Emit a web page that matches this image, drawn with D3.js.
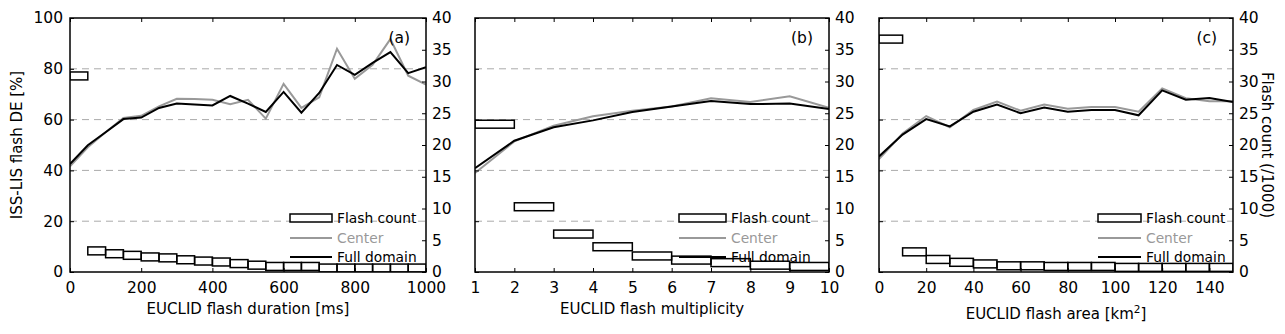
<!DOCTYPE html>
<html>
<head>
<meta charset="utf-8">
<script src="https://cdn.jsdelivr.net/npm/d3@7"></script>
<style>
  body { margin: 0; background: #fff; }
  svg { font-family: "DejaVu Sans", sans-serif; }
</style>
</head>
<body>
<div id="chart"></div>
<script>

// (a) flash duration
var durX = [0, 50, 100, 150, 200, 250, 300, 350, 400, 450, 500, 550, 600, 650, 700, 750, 800, 850, 900, 950, 1000];
var durFull = [42.5, 49.9, 55, 60.2, 60.8, 64.6, 66.3, 65.9, 65.6, 69.3, 66.3, 63, 70.9, 62.7, 70.5, 81.5, 77.6, 82.3, 86.6, 78.3, 80.6];
var durCenter = [41.6, 49.1, 55, 60.6, 61.5, 65.2, 68.2, 68.1, 67.8, 66.1, 67.8, 60.4, 74.1, 64.6, 68.8, 87.9, 76.1, 81.6, 91.7, 77.3, 73.8];
var durBins = [0, 50, 100, 150, 200, 250, 300, 350, 400, 450, 500, 550, 600, 650, 700, 750, 800, 850, 900, 950];
var durCount = [31.5, 3.95, 3.5, 3.25, 3.0, 2.85, 2.55, 2.35, 2.2, 1.95, 1.7, 1.5, 1.5, 1.5, 1.25, 1.25, 1.25, 1.25, 1.25, 1.25];
var durTicks = [0, 200, 400, 600, 800, 1000];

// (b) flash multiplicity
var multX = [1, 2, 3, 4, 5, 6, 7, 8, 9, 10];
var multFull = [40.9, 51.7, 57.0, 59.7, 63.0, 65.2, 67.3, 66.1, 66.3, 64.2];
var multCenter = [39.0, 51.4, 57.6, 61.3, 63.5, 65.2, 68.4, 66.9, 69.2, 64.6];
var multBins = [1, 2, 3, 4, 5, 6, 7, 8, 9];
var multCount = [23.9, 10.9, 6.6, 4.6, 3.15, 2.5, 2.1, 1.7, 1.5];
var multTicks = [1, 2, 3, 4, 5, 6, 7, 8, 9, 10];

// (c) flash area
var areaX = [0, 10, 20, 30, 40, 50, 60, 70, 80, 90, 100, 110, 120, 130, 140, 150];
var areaFull = [45.5, 54.1, 60.2, 57.3, 63.1, 65.9, 62.5, 64.8, 63.1, 63.8, 63.8, 61.7, 71.5, 67.8, 68.5, 66.9];
var areaCenter = [44.5, 54.5, 61.4, 57.0, 63.8, 67.1, 63.5, 65.9, 64.3, 65.0, 65.0, 63.1, 72.3, 68.4, 67.2, 67.2];
var areaBins = [0, 10, 20, 30, 40, 50, 60, 70, 80, 90, 100, 110, 120, 130, 140];
var areaCount = [37.3, 3.8, 2.6, 2.15, 1.9, 1.6, 1.6, 1.5, 1.5, 1.5, 1.35, 1.35, 1.35, 1.35, 1.35];
var areaTicks = [0, 20, 40, 60, 80, 100, 120, 140];

var deTicks = [0, 20, 40, 60, 80, 100];
var gridTicks = [20, 40, 60, 80];
var countTicks = [0, 5, 10, 15, 20, 25, 30, 35, 40];

var W = 1285, H = 334,
    pTop = 18, pBottom = 272;
var boxH = 1.25;   // height of a histogram box, in count units
var gray = "#999999";

var panels = [
  {id: "a", left: 70, right: 426, dom: [0, 1000], binW: 50, ticks: durTicks,
   x: durX, full: durFull, center: durCenter, bins: durBins, count: durCount,
   xlabel: "EUCLID flash duration [ms]", leftLabels: true, handle: 42, legLeft: 136},
  {id: "b", left: 475, right: 829, dom: [1, 10], binW: 1, ticks: multTicks,
   x: multX, full: multFull, center: multCenter, bins: multBins, count: multCount,
   xlabel: "EUCLID flash multiplicity", leftLabels: false, handle: 47, legLeft: 150},
  {id: "c", left: 879, right: 1233, dom: [0, 150], binW: 10, ticks: areaTicks,
   x: areaX, full: areaFull, center: areaCenter, bins: areaBins, count: areaCount,
   xlabel: "EUCLID flash area [km", sup: "2", leftLabels: false, handle: 43, legLeft: 135, rightLabel: true}
];

var svg = d3.select("#chart").append("svg")
    .attr("width", W)
    .attr("height", H);

var yDE = d3.scaleLinear().domain([0, 100]).range([pBottom, pTop]);
var yCnt = d3.scaleLinear().domain([0, 40]).range([pBottom, pTop]);

panels.forEach(function(p) {

  var x = d3.scaleLinear().domain(p.dom).range([p.left, p.right]);
  var g = svg.append("g");

  g.append("clipPath").attr("id", "clip-" + p.id)
    .append("rect")
      .attr("x", p.left).attr("y", pTop)
      .attr("width", p.right - p.left).attr("height", pBottom - pTop);

  // dashed grid from the left axis
  g.selectAll("line.grid")
      .data(gridTicks)
      .enter().append("line")
      .attr("class", "grid")
      .attr("x1", p.left).attr("x2", p.right)
      .attr("y1", yDE).attr("y2", yDE)
      .style("stroke", "#aaaaaa")
      .style("stroke-width", 1)
      .style("stroke-dasharray", "7,5");

  var line = d3.line()
      .x(function(d) { return x(d[0]); })
      .y(function(d) { return yDE(d[1]); });

  var plot = g.append("g").attr("clip-path", "url(#clip-" + p.id + ")");

  plot.append("path")
      .datum(p.x.map(function(v, i) { return [v, p.center[i]]; }))
      .attr("d", line)
      .style("fill", "none")
      .style("stroke", gray)
      .style("stroke-width", 2);

  plot.append("path")
      .datum(p.x.map(function(v, i) { return [v, p.full[i]]; }))
      .attr("d", line)
      .style("fill", "none")
      .style("stroke", "#000")
      .style("stroke-width", 2);

  // flash count boxes
  plot.selectAll("rect.box")
      .data(p.bins.map(function(b, i) { return {x0: b, c: p.count[i]}; }))
      .enter().append("rect")
      .attr("class", "box")
      .attr("x", function(d) { return x(d.x0); })
      .attr("width", function(d) { return x(d.x0 + p.binW) - x(d.x0); })
      .attr("y", function(d) { return yCnt(d.c); })
      .attr("height", function(d) { return yCnt(d.c - boxH) - yCnt(d.c); })
      .style("fill", "none")
      .style("stroke", "#000")
      .style("stroke-width", 1.5);

  // axes, ticks inside
  var xb = d3.axisBottom(x).tickValues(p.ticks).tickSize(-4).tickPadding(10)
      .tickFormat(d3.format("d"));
  var xt = d3.axisTop(x).tickValues(p.ticks).tickSize(-4).tickFormat("");
  var yl = d3.axisLeft(yDE).tickValues(deTicks).tickSize(-4).tickPadding(7)
      .tickFormat(p.leftLabels ? d3.format("d") : "");
  var yr = d3.axisRight(yCnt).tickValues(countTicks).tickSize(-4).tickPadding(6)
      .tickFormat(d3.format("d"));

  g.append("g").attr("transform", "translate(0," + pBottom + ")").call(xb);
  g.append("g").attr("transform", "translate(0," + pTop + ")").call(xt);
  g.append("g").attr("transform", "translate(" + p.left + ",0)").call(yl);
  g.append("g").attr("transform", "translate(" + p.right + ",0)").call(yr);

  g.selectAll(".domain").remove();
  g.selectAll(".tick line").style("stroke", "#000").style("stroke-width", 1);
  g.selectAll(".tick text")
      .style("font-family", "DejaVu Sans")
      .style("font-size", "15.5px")
      .style("fill", "#000");

  g.append("rect")
      .attr("x", p.left).attr("y", pTop)
      .attr("width", p.right - p.left).attr("height", pBottom - pTop)
      .style("fill", "none")
      .style("stroke", "#000")
      .style("stroke-width", 1.5);

  // panel letter
  g.append("text")
      .attr("x", p.right - 16).attr("y", 43)
      .attr("text-anchor", "end")
      .style("font-size", "15.5px")
      .text("(" + p.id + ")");

  // x label
  var xl = g.append("text")
      .attr("x", (p.left + p.right) / 2)
      .attr("y", p.sup ? 319 : 314)
      .attr("text-anchor", "middle")
      .style("font-size", "15px")
      .text(p.xlabel);
  if (p.sup) {
    xl.append("tspan").attr("dy", -6).style("font-size", "10.5px").text(p.sup);
    xl.append("tspan").attr("dy", 6).text("]");
  }

  // legend
  var lx = p.right - p.legLeft;
  var leg = g.append("g").style("font-size", "13.8px");
  leg.append("rect")
      .attr("x", lx).attr("y", 214)
      .attr("width", p.handle).attr("height", 8)
      .style("fill", "#fff")
      .style("stroke", "#000")
      .style("stroke-width", 1.5);
  leg.append("line")
      .attr("x1", lx).attr("x2", lx + p.handle)
      .attr("y1", 238).attr("y2", 238)
      .style("stroke", gray).style("stroke-width", 2);
  leg.append("line")
      .attr("x1", lx).attr("x2", lx + p.handle)
      .attr("y1", 257).attr("y2", 257)
      .style("stroke", "#000").style("stroke-width", 2);
  var tx = lx + p.handle + 5;
  leg.append("text").attr("x", tx).attr("y", 223).text("Flash count");
  leg.append("text").attr("x", tx).attr("y", 243).style("fill", gray).text("Center");
  leg.append("text").attr("x", tx).attr("y", 262).text("Full domain");

  if (p.rightLabel) {
    g.append("text")
        .attr("transform", "translate(1262," + ((pTop + pBottom) / 2) + ") rotate(90)")
        .attr("text-anchor", "middle")
        .style("font-size", "15px")
        .text("Flash count (/1000)");
  }
});

svg.append("text")
    .attr("transform", "translate(22," + ((pTop + pBottom) / 2) + ") rotate(-90)")
    .attr("text-anchor", "middle")
    .style("font-size", "15px")
    .text("ISS-LIS flash DE [%]");

</script>
</body>
</html>
